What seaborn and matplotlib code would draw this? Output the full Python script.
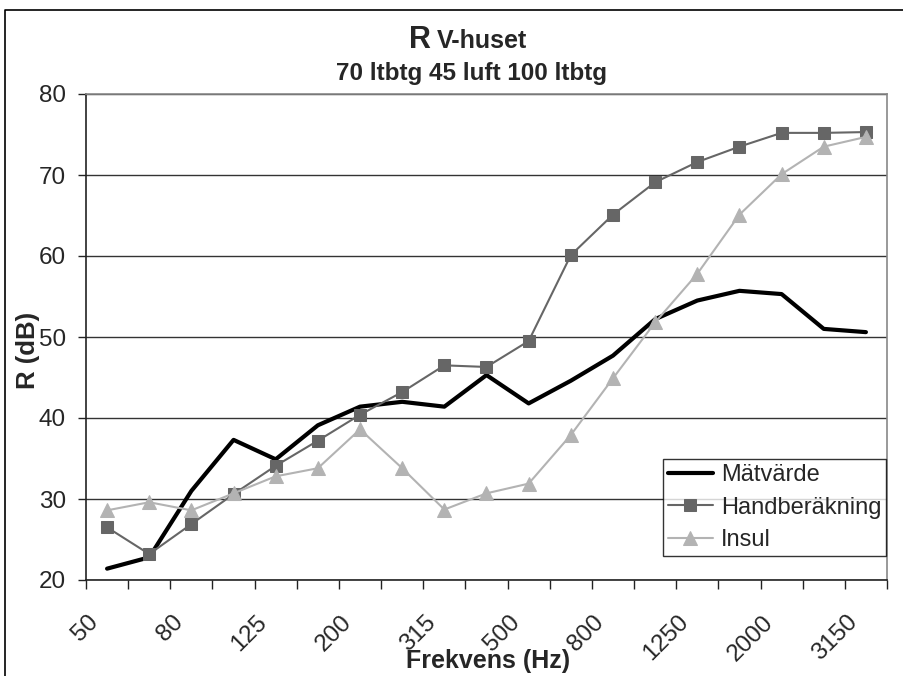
import matplotlib
matplotlib.use("Agg")
import matplotlib.pyplot as plt
from matplotlib.lines import Line2D
from matplotlib.ticker import FixedLocator
from matplotlib.transforms import ScaledTranslation
import seaborn as sns
import pandas as pd
import numpy as np

freqs = ["50", "63", "80", "100", "125", "160", "200", "250", "315", "400",
         "500", "630", "800", "1000", "1250", "1600", "2000", "2500", "3150"]
matvarde = [21.4, 22.8, 31.0, 37.3, 34.9, 39.1, 41.4, 42.0, 41.4, 45.3,
            41.8, 44.6, 47.7, 52.2, 54.5, 55.7, 55.3, 51.0, 50.6]
handberakning = [26.5, 23.2, 26.9, 30.6, 34.1, 37.2, 40.4, 43.2, 46.5, 46.3,
                 49.5, 60.1, 65.1, 69.1, 71.6, 73.5, 75.2, 75.2, 75.3]
insul = [28.6, 29.6, 28.6, 30.7, 32.8, 33.8, 38.6, 33.8, 28.7, 30.7,
         31.9, 37.9, 44.9, 51.8, 57.8, 65.1, 70.1, 73.5, 74.7]

sns.set_theme(style="white")
plt.rcParams['font.family'] = ['Liberation Sans', 'DejaVu Sans']

W, H = 904, 676
fig = plt.figure(figsize=(W / 100, H / 100), dpi=100)
ax = fig.add_axes([86 / W, 1 - 580 / H, (887 - 86) / W, (580 - 94) / H])

idx = np.arange(len(freqs))
df = pd.DataFrame({"pos": idx, "Mätvärde": matvarde,
                   "Handberäkning": handberakning, "Insul": insul})

sns.lineplot(data=df, x="pos", y="Mätvärde", ax=ax, color="black", lw=3,
             label="Mätvärde")
sns.lineplot(data=df, x="pos", y="Handberäkning", ax=ax, color="#666666", lw=1.5,
             marker="s", markersize=8.5, markeredgecolor="#666666",
             markerfacecolor="#666666", label="Handberäkning")
sns.lineplot(data=df, x="pos", y="Insul", ax=ax, color="#b3b3b3", lw=1.5,
             marker="^", markersize=10, markeredgecolor="#b3b3b3",
             markerfacecolor="#b3b3b3", label="Insul")

ax.set_xlim(-0.5, len(freqs) - 0.5)
ax.set_ylim(20, 80)
ax.set_yticks(range(20, 81, 10))
ax.set_yticklabels([str(v) for v in range(20, 81, 10)], fontsize=17.5)
ax.yaxis.grid(True, color="#333333", lw=1)
ax.set_axisbelow(True)

ax.set_xticks(idx[::2])
ax.xaxis.set_minor_locator(FixedLocator(np.arange(-0.5, len(freqs), 1.0)))
ax.tick_params(axis="x", which="major", length=0, pad=28)
ax.tick_params(axis="x", which="minor", length=6.5, width=1, color="#222222",
               direction="out", bottom=True)
ax.tick_params(axis="y", which="major", length=6, width=1, color="#222222",
               direction="out", left=True, pad=8.5)
ax.set_xticklabels(freqs[::2], fontsize=17.5, rotation=45, ha="right",
                   va="center", rotation_mode="anchor")
shift = ScaledTranslation(-12 / 100, 0, fig.dpi_scale_trans)
for lab in ax.get_xticklabels():
    lab.set_transform(lab.get_transform() + shift)

ax.set_xlabel("")
ax.set_ylabel("")
for s in ["left", "bottom"]:
    ax.spines[s].set_color("#222222")
    ax.spines[s].set_linewidth(1.2)
for s in ["top", "right"]:
    ax.spines[s].set_color("#888888")
    ax.spines[s].set_linewidth(1.2)

leg = ax.legend(loc="lower right", bbox_to_anchor=(886 / W, 1 - 556 / H),
                bbox_transform=fig.transFigure, borderaxespad=0, fontsize=17,
                frameon=True, fancybox=False, edgecolor="black",
                handlelength=1.9, labelspacing=0.45, borderpad=0.2,
                handletextpad=0.35)
leg.get_frame().set_linewidth(1)

fig.text(431 / W, 1 - 48 / H, "R", fontsize=22, fontweight="bold",
         ha="right", va="baseline")
fig.text(437 / W, 1 - 48 / H, "V-huset", fontsize=18, fontweight="bold",
         ha="left", va="baseline")
fig.text(472 / W, 1 - 80 / H, "70 ltbtg 45 luft 100 ltbtg", fontsize=17.5,
         fontweight="bold", ha="center", va="baseline")
fig.text(28 / W, 1 - 350 / H, "R (dB)", fontsize=18.5, fontweight="bold",
         rotation=90, ha="center", va="center")
fig.text(488 / W, 1 - 668 / H, "Frekvens (Hz)", fontsize=18, fontweight="bold",
         ha="center", va="baseline")

fig.add_artist(Line2D([5 / W, 5 / W, 1.0], [0.0, 1 - 10 / H, 1 - 10 / H],
                      transform=fig.transFigure, color="black", lw=1.2))

fig.savefig("out.png", dpi=100, facecolor="white")
